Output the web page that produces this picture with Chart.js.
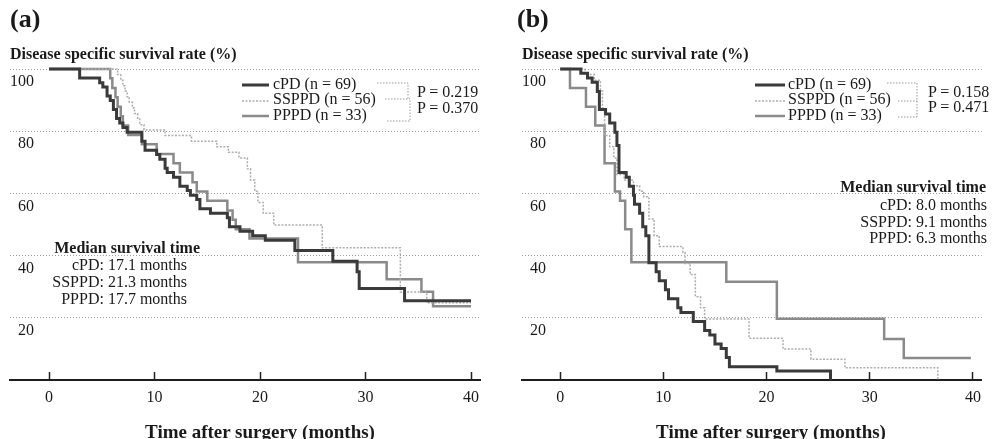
<!DOCTYPE html>
<html>
<head>
<meta charset="utf-8">
<script src="https://cdn.jsdelivr.net/npm/chart.js@4.4.1/dist/chart.umd.min.js"></script>
<style>
  body { margin: 0; background: #fff; }
  #wrap { position: relative; width: 997px; height: 439px; overflow: hidden;
          font-family: "Liberation Serif", "Times New Roman", serif; color: #1a1a1a; }
  canvas { position: absolute; top: 0; }
  svg { position: absolute; left: 0; top: 0; }
  .t { position: absolute; line-height: 1; white-space: nowrap; font-size: 16px; }
  .b { font-weight: bold; }
  .r { text-align: right; }
  .c { transform: translateX(-50%); }
</style>
</head>
<body>
<div id="wrap">
  <canvas id="chartA" width="498" height="439" style="left:0"></canvas>
  <canvas id="chartB" width="485" height="439" style="left:512px"></canvas>

  <svg width="997" height="439">
    <!-- legend samples (a) -->
    <line x1="242" y1="85" x2="269" y2="85" stroke="#3a3a3a" stroke-width="3"/>
    <line x1="242" y1="101" x2="269" y2="101" stroke="#adadad" stroke-width="1.5" stroke-dasharray="2 1.5"/>
    <line x1="242" y1="116" x2="269" y2="116" stroke="#8a8a8a" stroke-width="2.5"/>
    <!-- legend samples (b) -->
    <line x1="755" y1="85" x2="785" y2="85" stroke="#3a3a3a" stroke-width="3"/>
    <line x1="755" y1="101" x2="785" y2="101" stroke="#adadad" stroke-width="1.5" stroke-dasharray="2 1.5"/>
    <line x1="755" y1="116" x2="785" y2="116" stroke="#8a8a8a" stroke-width="2.5"/>
    <!-- p-value brackets -->
    <g fill="none" stroke="#9a9a9a" stroke-width="1" stroke-dasharray="1.5 1.5">
      <path d="M377 83 H408 V99 M385 99 H410 M387 121 H410 V99"/>
      <path d="M887 83 H917 V117 M898 101 H917 M898 117 H917"/>
    </g>
  </svg>

  <!-- panel (a) texts -->
  <div class="t b" style="left:10px;top:6px;font-size:26px">(a)</div>
  <div class="t b" style="left:10px;top:46px">Disease specific survival rate (%)</div>
  <div class="t" style="left:273px;top:76px">cPD (n = 69)</div>
  <div class="t" style="left:273px;top:91px">SSPPD (n = 56)</div>
  <div class="t" style="left:273px;top:107px">PPPD (n = 33)</div>
  <div class="t" style="left:417px;top:84px">P = 0.219</div>
  <div class="t" style="left:417px;top:100px">P = 0.370</div>
  <div class="t b r" style="right:797px;top:240px">Median survival time</div>
  <div class="t r" style="right:810px;top:257px">cPD: 17.1 months</div>
  <div class="t r" style="right:810px;top:274px">SSPPD: 21.3 months</div>
  <div class="t r" style="right:810px;top:291px">PPPD: 17.7 months</div>
  <div class="t b c" style="left:260px;top:422px;font-size:19px">Time after surgery (months)</div>

  <!-- panel (b) texts -->
  <div class="t b" style="left:517px;top:6px;font-size:26px">(b)</div>
  <div class="t b" style="left:522px;top:46px">Disease specific survival rate (%)</div>
  <div class="t" style="left:788px;top:76px">cPD (n = 69)</div>
  <div class="t" style="left:788px;top:91px">SSPPD (n = 56)</div>
  <div class="t" style="left:788px;top:107px">PPPD (n = 33)</div>
  <div class="t" style="left:928px;top:84px">P = 0.158</div>
  <div class="t" style="left:928px;top:99px">P = 0.471</div>
  <div class="t b r" style="right:11px;top:179px">Median survival time</div>
  <div class="t r" style="right:10px;top:197px">cPD: 8.0 months</div>
  <div class="t r" style="right:10px;top:214px">SSPPD: 9.1 months</div>
  <div class="t r" style="right:10px;top:230px">PPPD: 6.3 months</div>
  <div class="t b c" style="left:771px;top:422px;font-size:19px">Time after surgery (months)</div>
</div>

<script>
const FONT = '"Liberation Serif", "Times New Roman", serif';

const seriesNames = ['cPD', 'SSPPD', 'PPPD'];
const xTicks = [0, 10, 20, 30, 40];
const yTicks = [20, 40, 60, 80, 100];

// (a) Kaplan-Meier steps: time of each drop (months) and survival after it (%)
const aCpdTime = [0, 2.9, 4.8, 5.1, 5.5, 5.8, 6.1, 6.4, 6.7, 7.0, 7.4, 8.8, 9.1, 10.2, 10.5, 11.0, 11.2, 11.8, 12.4, 13.1, 13.4, 14.0, 14.3, 15.3, 16.9, 17.1, 18.1, 19.3, 20.5, 23.3, 26.9, 29.2, 29.4, 33.7, 40];
const aCpdSurv = [100, 97.1, 95.6, 94.2, 91.3, 89.9, 87.0, 84.1, 82.6, 81.2, 79.7, 76.8, 73.9, 72.5, 71.0, 68.1, 66.7, 65.2, 62.3, 60.9, 59.4, 58.0, 55.1, 53.6, 52.2, 49.3, 47.8, 46.4, 44.9, 41.6, 38.2, 34.8, 29.4, 25.5, 25.5];
const aSspTime = [0, 6.5, 6.8, 7.0, 7.2, 7.4, 7.6, 7.9, 8.1, 8.4, 8.6, 9.0, 11.0, 13.5, 15.9, 17.0, 18.0, 18.8, 19.1, 19.5, 19.8, 20.3, 21.3, 25.9, 33.3, 35.8, 40];
const aSspSurv = [100, 98.2, 96.4, 94.6, 92.9, 91.1, 89.3, 87.5, 85.7, 83.9, 82.1, 80.4, 78.6, 76.8, 75.0, 73.2, 71.4, 67.9, 64.3, 60.7, 57.1, 53.6, 49.8, 42.5, 28.3, 24.8, 24.8];
const aPppTime = [0, 5.8, 6.0, 6.3, 6.5, 6.8, 7.0, 7.5, 8.8, 10.2, 11.8, 12.4, 13.6, 14.0, 15.0, 16.9, 17.4, 17.7, 19.0, 23.6, 32.0, 35.3, 36.4, 40];
const aPppSurv = [100, 97.0, 93.9, 90.9, 87.9, 84.8, 81.8, 78.8, 75.8, 72.7, 69.7, 66.7, 63.6, 60.6, 57.6, 54.5, 51.5, 48.5, 45.5, 37.9, 32.4, 28.4, 23.7, 23.7];

// (b)
const bCpdTime = [0, 2.0, 2.65, 3.1, 3.6, 3.8, 4.4, 4.8, 5.3, 5.5, 5.7, 6.4, 6.7, 7.1, 7.2, 7.7, 8.0, 8.3, 8.6, 9.3, 9.6, 10.2, 10.5, 11.4, 11.7, 12.9, 14.0, 14.5, 15.0, 15.6, 16.1, 16.4, 21.0, 26.2];
const bCpdSurv = [100, 98.6, 97.1, 95.7, 92.8, 87.0, 85.5, 82.6, 79.7, 75.4, 66.7, 65.2, 62.3, 59.4, 56.5, 53.6, 49.3, 46.4, 37.7, 34.8, 31.9, 29.0, 26.1, 23.2, 21.7, 18.8, 15.9, 14.5, 11.6, 10.1, 7.2, 4.3, 2.9, 0];
const bSspTime = [0, 2.4, 3.3, 3.9, 4.1, 4.3, 4.8, 5.2, 5.5, 6.2, 7.1, 7.7, 8.1, 8.6, 9.1, 9.6, 11.9, 12.1, 12.6, 13.1, 13.6, 14.0, 18.3, 21.6, 24.3, 27.6, 36.6];
const bSspSurv = [100, 98.2, 96.4, 92.9, 87.5, 78.6, 75.0, 71.4, 66.1, 64.3, 62.5, 60.7, 58.9, 51.8, 46.4, 42.9, 41.0, 37.5, 33.9, 26.8, 23.2, 19.6, 13.4, 10.0, 6.7, 3.9, 0];
const bPppTime = [0, 0.95, 2.5, 3.4, 4.3, 5.3, 5.8, 6.3, 6.9, 16.1, 21.0, 31.4, 33.3, 39.8];
const bPppSurv = [100, 93.9, 87.9, 81.8, 69.7, 60.6, 57.6, 48.5, 37.9, 31.6, 19.7, 13.2, 7.1, 7.1];

const lineStyles = [
  { borderColor: '#3a3a3a', borderWidth: 3 },
  { borderColor: '#adadad', borderWidth: 1.5, borderDash: [2, 1.5] },
  { borderColor: '#8a8a8a', borderWidth: 2.5 }
];

function km(times, surv) {
  return times.map((t, i) => ({ x: t, y: surv[i] }));
}

function makeChart(id, curves, padRight) {
  return new Chart(document.getElementById(id), {
    type: 'line',
    data: {
      datasets: curves.map((c, i) => Object.assign({
        label: seriesNames[i],
        data: km(c[0], c[1]),
        stepped: 'before',
        pointRadius: 0,
        fill: false,
        clip: false
      }, lineStyles[i]))
    },
    options: {
      responsive: false,
      animation: false,
      devicePixelRatio: 1,
      layout: { padding: { top: 69, left: 10, right: padRight, bottom: 0 } },
      plugins: { legend: { display: false }, tooltip: { enabled: false } },
      scales: {
        x: {
          type: 'linear', min: -3.7, max: 40.85,
          afterBuildTicks: s => { s.ticks = xTicks.map(v => ({ value: v })); },
          afterFit: s => { s.height = 59; },
          grid: { drawOnChartArea: false, drawTicks: true, tickLength: -8, tickColor: '#222', tickWidth: 1.5 },
          border: { display: true, color: '#1e1e1e', width: 2 },
          ticks: { padding: 16, color: '#1a1a1a', font: { family: FONT, size: 16 } }
        },
        y: {
          min: 0, max: 100,
          afterBuildTicks: s => { s.ticks = yTicks.map(v => ({ value: v })); },
          afterFit: s => { s.width = 0; },
          grid: { drawTicks: false, color: '#9c9c9c', lineWidth: 1 },
          border: { display: false, dash: [1, 2] },
          ticks: { mirror: true, crossAlign: 'far', padding: 0, labelOffset: 13,
                   color: '#1a1a1a', font: { family: FONT, size: 16 } }
        }
      }
    }
  });
}

makeChart('chartA', [[aCpdTime, aCpdSurv], [aSspTime, aSspSurv], [aPppTime, aPppSurv]], 18);
makeChart('chartB', [[bCpdTime, bCpdSurv], [bSspTime, bSspSurv], [bPppTime, bPppSurv]], 5);
</script>
</body>
</html>
